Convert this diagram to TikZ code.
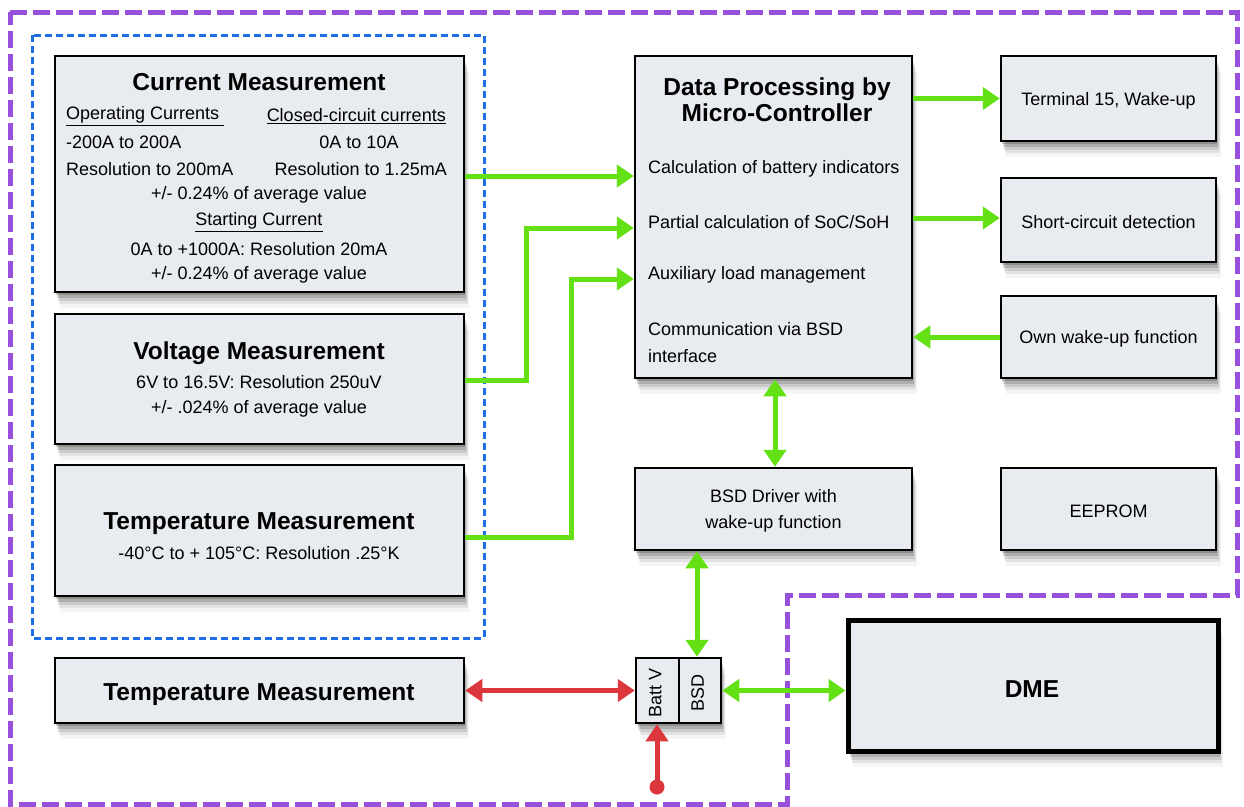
\documentclass[tikz,border=0pt]{standalone}
\usepackage{fontspec}
\setmainfont{Liberation Sans}
\usetikzlibrary{arrows.meta,shadows,calc}
\definecolor{boxfill}{HTML}{E8EBEF}
\definecolor{gline}{HTML}{64E114}
\definecolor{rline}{HTML}{DC373C}
\definecolor{purp}{HTML}{9650DC}
\definecolor{blu}{HTML}{1E6EE6}
\tikzset{
  softshadow/.style={
    general shadow={fill=black, opacity=0.18, shadow xshift=1pt, shadow yshift=-3pt},
    general shadow={fill=black, opacity=0.14, shadow xshift=2pt, shadow yshift=-6pt},
    general shadow={fill=black, opacity=0.10, shadow xshift=3pt, shadow yshift=-9pt},
    general shadow={fill=black, opacity=0.07, shadow xshift=4pt, shadow yshift=-12pt},
    general shadow={fill=black, opacity=0.04, shadow xshift=5pt, shadow yshift=-16pt}},
  box/.style={draw=black, line width=2.5pt, fill=boxfill, inner sep=0pt, softshadow},
  body/.style={inner sep=0pt, yshift=-2pt, font=\fontsize{18}{26.6}\selectfont},
  ttl/.style={inner sep=0pt, font=\fontsize{24.5}{26}\selectfont\bfseries},
  garrow/.style={draw=gline, line width=5pt, -{Triangle[length=17pt,width=22pt]}},
  gboth/.style={draw=gline, line width=5pt, {Triangle[length=17pt,width=22pt]}-{Triangle[length=17pt,width=22pt]}},
  rboth/.style={draw=rline, line width=5pt, {Triangle[length=17pt,width=22pt]}-{Triangle[length=17pt,width=22pt]}},
  rarrow/.style={draw=rline, line width=5pt, -{Triangle[length=17pt,width=22pt]}},
  purpdash/.style={draw=purp, line width=5pt, dash pattern=on 17pt off 6pt},
  bludash/.style={draw=blu, line width=3pt, dash pattern=on 7pt off 4pt},
}
\begin{document}
\begin{tikzpicture}[x=1pt,y=-1pt]
\useasboundingbox (0,0) rectangle (1244,806);
\fill[white] (0,0) rectangle (1244,806);

% dashed regions
\draw[purpdash] (10,12) -- (1237,12) -- (1237,595) -- (787,595) -- (787,804) -- (10,804) -- cycle;
\draw[bludash] (32,35) rectangle (484,638);

% left boxes
\node[box, minimum width=409pt, minimum height=236pt] (cur) at (259.5,174) {};
\node[box, minimum width=409pt, minimum height=130pt] (volt) at (259.5,379) {};
\node[box, minimum width=409pt, minimum height=131pt] (temp) at (259.5,530.5) {};
\node[box, minimum width=409pt, minimum height=65pt] (temp2) at (259.5,690.5) {};

% right boxes
\node[box, minimum width=277pt, minimum height=322pt] (dp) at (773.5,217) {};
\node[box, minimum width=215pt, minimum height=85pt] (t15) at (1108.5,98.5) {};
\node[box, minimum width=215pt, minimum height=84pt] (sc) at (1108.5,220) {};
\node[box, minimum width=215pt, minimum height=82pt] (ow) at (1108.5,337) {};
\node[box, minimum width=277pt, minimum height=82pt] (bsdd) at (773.5,509) {};
\node[box, minimum width=215pt, minimum height=82pt] (eep) at (1108.5,509) {};
\node[box, line width=5pt, minimum width=370pt, minimum height=131pt] (dme) at (1033,685.5) {};
\node[box, minimum width=85pt, minimum height=65pt] (small) at (678.5,690.5) {};
\node[inner sep=0pt, minimum width=42.5pt, minimum height=65pt] (battv) at (657.25,690.5) {};
\node[inner sep=0pt, minimum width=42.5pt, minimum height=65pt] (bsdh) at (699.75,690.5) {};
\draw[line width=2pt] (battv.north east) -- (battv.south east);

% texts: current
\node[ttl] (curT) at (259,82) {Current Measurement};
\node[body, anchor=west] (c1) at (66,114) {\underline{Operating Currents\ }};
\node[body, anchor=east] (c2) at (446,114) {\underline{Closed-circuit currents}};
\node[body, anchor=west] (c3) at (66,140) {-200A to 200A};
\node[body] (c4) at (359,140) {0A to 10A};
\node[body, anchor=west] (c5) at (66,167) {Resolution to 200mA};
\node[body, anchor=east] (c6) at (447,167) {Resolution to 1.25mA};
\node[body] (c7) at (259,193) {+/- 0.24\% of average value};
\node[body] (c8) at (259,220) {\underline{Starting Current}};
\node[body] (c9) at (259,247) {0A to +1000A: Resolution 20mA};
\node[body] (c10) at (259,273) {+/- 0.24\% of average value};

% voltage
\node[ttl] (voltT) at (259,353) {Voltage Measurement};
\node[body] (v1) at (259,380) {6V to 16.5V: Resolution 250uV};
\node[body] (v2) at (259,407) {+/- .024\% of average value};

% temperature
\node[ttl] (tempT) at (259,524) {Temperature Measurement};
\node[body] (t1) at (259,551) {-40°C to + 105°C: Resolution .25°K};
\node[ttl] (temp2T) at (259,695) {Temperature Measurement};

% data processing
\node[ttl, align=center] (dpT) at (777,100) {Data Processing by\\Micro-Controller};
\node[body, anchor=west] (d1) at (648,167) {Calculation of battery indicators};
\node[body, anchor=west] (d2) at (648,220) {Partial calculation of SoC/SoH};
\node[body, anchor=west] (d3) at (648,273) {Auxiliary load management};
\node[body, anchor=west, align=left] (d4) at (648,340.5) {Communication via BSD\\interface};

\node[body] (t15T) at (t15.center) {Terminal 15, Wake-up};
\node[body] (scT) at (sc.center) {Short-circuit detection};
\node[body] (owT) at (ow.center) {Own wake-up function};
\node[body, align=center] (bsddT) at (bsdd.center) {BSD Driver with\\wake-up function};
\node[body] (eepT) at (eep.center) {EEPROM};
\node[ttl] (dmeT) at (1032,689) {DME};
\node[body, rotate=90, yshift=2pt] (bvT) at (battv.center) {Batt V};
\node[body, rotate=90, yshift=2pt] (bsdT) at (bsdh.center) {BSD};

% connectors
\draw[garrow] (cur.east |- 0,176) -- (dp.west |- 0,176);
\draw[garrow] (volt.east |- 0,380) -- (526,380) |- (dp.west |- 0,228);
\draw[garrow] (temp.east |- 0,537) -- (571,537) |- (dp.west |- 0,279);
\draw[garrow] (dp.east |- t15.west) -- (t15.west);
\draw[garrow] (dp.east |- 0,218) -- (sc.west |- 0,218);
\draw[garrow] (ow.west) -- (dp.east |- ow.west);
\draw[gboth] (dp.south -| 775,0) -- (bsdd.north -| 775,0);
\draw[gboth] (bsdd.south -| 697,0) -- (small.north -| 697,0);
\draw[gboth] (small.east) -- (dme.west |- small.east);
\draw[rboth] (temp2.east) -- (small.west);
\coordinate (src) at (657,787);
\fill[rline] (src) circle (7.5pt);
\draw[rarrow] (src) -- (src |- small.south);
\end{tikzpicture}
\end{document}
